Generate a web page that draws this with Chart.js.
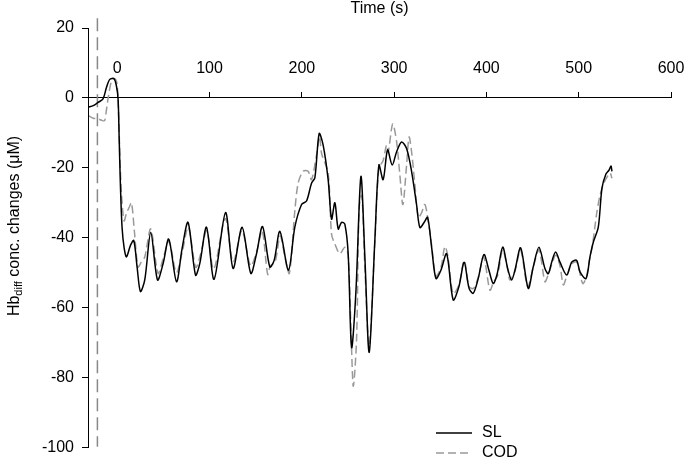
<!DOCTYPE html>
<html>
<head>
<meta charset="utf-8">
<script src="https://cdn.jsdelivr.net/npm/chart.js@4.4.0/dist/chart.umd.min.js"></script>
<style>
  html, body { margin: 0; padding: 0; background: #fff; }
  #wrap { width: 685px; height: 465px; }
</style>
</head>
<body>
<div id="wrap"><canvas id="hbChart" width="685" height="465"></canvas></div>
<script>
// axis ticks
const xTicks = [0, 100, 200, 300, 400, 500, 600];
const yTicks = [-100, -80, -60, -40, -20, 0, 20];

// dashed marker before onset
const markerTime = [-21.5, -21.5];
const markerValue = [22.8, -99.8];

// SL series
const slTime = [-31.6, -26, -20.8, -15.4, -11.7, -8.1, -3.5, -0.9, 0.9, 2, 3.4, 5.2, 7.5, 10, 14.3, 17.9,
  21.5, 25.1, 29.8, 36.3, 43.6, 49.7, 55.8, 64.2, 70.2, 76.7, 84.8, 89.4, 96.7, 104.9, 117.3, 125.5,
  135.3, 144.7, 150.9, 157.4, 165.3, 170, 176.2, 185.5, 192.4, 199.7, 205.1, 210.5, 214.1, 218.8,
  223.1, 228.5, 232.2, 235.8, 239.4, 243, 246.6, 250.2, 253.9, 258.5, 264, 268.3, 273, 279.1, 283.5,
  288.1, 292.9, 297.9, 302.7, 308.1, 313.5, 318.9, 324.3, 327.9, 332.6, 336.3, 340.6, 345.3, 350.7,
  356.9, 364, 370.2, 375.9, 381.2, 385.7, 391.1, 397.3, 402.7, 407.4, 411.7, 417.6, 423, 427.3, 430.9,
  437.1, 445.3, 450.7, 456.9, 463.4, 467, 470.7, 475, 479.7, 487, 492.4, 497.8, 501.4, 507.9, 512.2,
  515.8, 521.2, 525.2, 529.5, 532.8, 535, 536];
const slValue = [-2.7, -2.2, -1.3, -0.3, 3.0, 5.3, 5.5, 3.4, -0.3, -10.7, -24.8, -37, -43, -45.5, -42.2, -40.8,
  -48.4, -55.4, -52.1, -38.5, -52.1, -47.4, -40.4, -52.6, -43.2, -35.6, -50.7, -47.4, -37, -51.9, -32.8, -48.8,
  -37, -50.2, -44.6, -36.8, -48.4, -46.5, -38.2, -49.3, -37, -30.5, -29.5, -24.4, -22.9, -10.2,
  -13.5, -23.4, -34.7, -30, -37.5, -35.6, -36.1, -44.6, -71.4, -55.9, -22.5, -45.5, -72.8, -40.8, -19.2,
  -23.4, -14.9, -19.2, -15.4, -12.6, -14.5, -21, -30.5, -37.1, -35.6, -34.2, -42.7, -51.7, -49.3,
  -44.6, -57.8, -54, -47, -54.5, -55.9, -51.7, -44.8, -49.3, -53.1, -50.3, -42.7, -48.8, -52.1, -49.3,
  -42.9, -54.5, -48.4, -42.7, -48.8, -50.3, -47, -44.1, -47, -50.7, -47, -46.5, -49.8, -51.7, -45.5,
  -41.3, -37, -25.8, -21.8, -20.7, -19.5, -21];

// COD series
const codTime = [-31.6, -26, -20.8, -16, -13.6, -11.5, -10, -6.3, -2.7, -0.2, 1.5, 2.7, 4.6, 7.4, 10, 12.8,
  15.4, 18.5, 22.5, 26, 29.8, 36.3, 44.2, 49.7, 56, 64, 70.5, 77, 85, 90, 97, 104.5, 117, 125.5, 135,
  144.5, 151, 157, 163, 166, 171, 176.5, 182, 186.5, 192.4, 196, 201.4, 206.8, 210.5, 215.9, 219.3,
  221.4, 228.5, 232.2, 235.8, 241.2, 246.6, 250.2, 253.9, 255.8, 259.3, 262.1, 265, 268.5, 273, 279,
  283.5, 288, 291.8, 293.6, 298.5, 302.7, 306.2, 309.5, 313.5, 316.2, 318.9, 322.5, 326.1, 329.5,
  333.3, 336.9, 340.6, 345.3, 350.7, 355, 358, 364, 370.2, 376, 381, 386, 391, 397, 403.8, 408, 412,
  417.6, 423, 425.5, 431, 437, 444.7, 450.7, 457, 463.4, 467, 471, 475, 479.7, 483.3, 487, 492.4, 498,
  504.3, 508, 512, 515, 519.5, 523, 527, 531, 534, 536];
const codValue = [-5, -5.8, -6, -6.5, -6.5, -3, -0.3, 4.8, 5.5, 3.9, -5, -15.4, -27.6, -35.2, -33, -31.4,
  -30, -38, -48.4, -47, -45.5, -37.5, -50.2, -46, -41, -50, -44, -37, -48.5, -45, -38, -49, -34.5, -47, -38,
  -48, -44, -38, -50.5, -48, -47, -39.5, -46, -50.2, -32.3, -24.4, -21, -21, -23.4, -16.4, -11.1,
  -15.9, -21.5, -39, -41.8, -44.6, -42.7, -45, -71.9, -82.5, -69, -31.4, -28, -50, -71, -42,
  -20, -18, -13.5, -15.4, -7.5, -12.6, -22, -30.5, -19.2, -11.2, -15.4, -24.8, -34.2, -33,
  -30.5, -35.2, -42, -51, -48.5, -42.5, -45, -56, -53.5, -46.5, -54, -54.5, -51.5, -45.5, -55, -52.5, -51,
  -43.5, -49, -52.1, -49.5, -43.5, -54, -48.5, -43.5, -52.6, -50.5, -47.5, -45, -48, -53.5, -51, -47.5, -47,
  -53.1, -51.5, -46, -42, -33, -28, -24.5, -22.5, -21.5, -23];

const FONT = '"Liberation Sans", Arial, sans-serif';

function toPoints(xs, ys) {
    return xs.map((x, i) => ({ x: x, y: ys[i] }));
}

// y axis line, titles and legend
const annotate = {
    id: 'annotate',
    afterDraw(chart) {
        const ctx = chart.ctx;
        const area = chart.chartArea;
        const ys = chart.scales.y;

        ctx.save();
        ctx.strokeStyle = '#000';
        ctx.lineWidth = 1;
        ctx.beginPath();
        ctx.moveTo(Math.round(ys.right) + 0.5, ys.getPixelForValue(20));
        ctx.lineTo(Math.round(ys.right) + 0.5, ys.getPixelForValue(-100));
        ctx.stroke();

        ctx.fillStyle = '#000';
        ctx.font = '16px ' + FONT;
        ctx.textAlign = 'center';
        ctx.textBaseline = 'middle';
        ctx.fillText('Time (s)', (area.left + area.right) / 2, 9);

        // y title with subscript
        const big = '16px ' + FONT;
        const small = '11px ' + FONT;
        const parts = [['Hb', big, 0], ['diff', small, 4], [' conc. changes (\u03bcM)', big, 0]];
        let total = 0;
        parts.forEach(p => { ctx.font = p[1]; total += ctx.measureText(p[0]).width; });
        ctx.translate(15, 226);
        ctx.rotate(-Math.PI / 2);
        ctx.textAlign = 'left';
        let x = -total / 2;
        parts.forEach(p => {
            ctx.font = p[1];
            ctx.fillText(p[0], x, p[2]);
            x += ctx.measureText(p[0]).width;
        });
        ctx.restore();

        // legend
        ctx.save();
        ctx.lineWidth = 1.5;
        ctx.strokeStyle = '#000';
        ctx.beginPath();
        ctx.moveTo(436, 433);
        ctx.lineTo(472, 433);
        ctx.stroke();
        ctx.strokeStyle = '#999';
        ctx.setLineDash([8, 4]);
        ctx.beginPath();
        ctx.moveTo(436, 453);
        ctx.lineTo(472, 453);
        ctx.stroke();
        ctx.setLineDash([]);
        ctx.fillStyle = '#000';
        ctx.font = '16px ' + FONT;
        ctx.textAlign = 'left';
        ctx.textBaseline = 'middle';
        ctx.fillText('SL', 482, 433);
        ctx.fillText('COD', 482, 453);
        ctx.restore();
    }
};

const ctx = document.getElementById('hbChart').getContext('2d');
const hbChart = new Chart(ctx, {
    type: 'line',
    data: {
        datasets: [{
            label: 'SL',
            data: toPoints(slTime, slValue),
            borderColor: '#000',
            borderWidth: 1.5,
            pointRadius: 0,
            tension: 0.3
        }, {
            label: 'COD',
            data: toPoints(codTime, codValue),
            borderColor: '#999',
            borderWidth: 1.5,
            borderDash: [8, 4],
            pointRadius: 0,
            tension: 0.3
        }, {
            label: 'marker',
            data: toPoints(markerTime, markerValue),
            borderColor: '#888',
            borderWidth: 1.5,
            borderDash: [13, 6],
            pointRadius: 0,
            clip: false
        }]
    },
    options: {
        responsive: false,
        animation: false,
        devicePixelRatio: 1,
        layout: { padding: { top: 28, right: 14, bottom: 12, left: 0 } },
        scales: {
            x: {
                type: 'linear',
                position: { y: 0 },
                min: -31.7,
                max: 600,
                afterBuildTicks: axis => { axis.ticks = xTicks.map(v => ({ value: v })); },
                grid: { drawOnChartArea: false, color: '#000', tickLength: -6 },
                border: { color: '#000', width: 1 },
                ticks: { color: '#000', font: { size: 16, family: FONT }, padding: -33, maxRotation: 0, autoSkip: false }
            },
            y: {
                min: -100,
                max: 20,
                afterBuildTicks: axis => { axis.ticks = yTicks.map(v => ({ value: v })); },
                afterFit: axis => { axis.width = 88; },
                grid: { drawOnChartArea: false, color: '#000', tickLength: 6 },
                border: { color: '#000', width: 1 },
                ticks: { color: '#000', font: { size: 16, family: FONT }, padding: 8 }
            }
        },
        plugins: {
            legend: { display: false },
            title: { display: false },
            tooltip: { enabled: false }
        }
    },
    plugins: [annotate]
});
</script>
</body>
</html>
